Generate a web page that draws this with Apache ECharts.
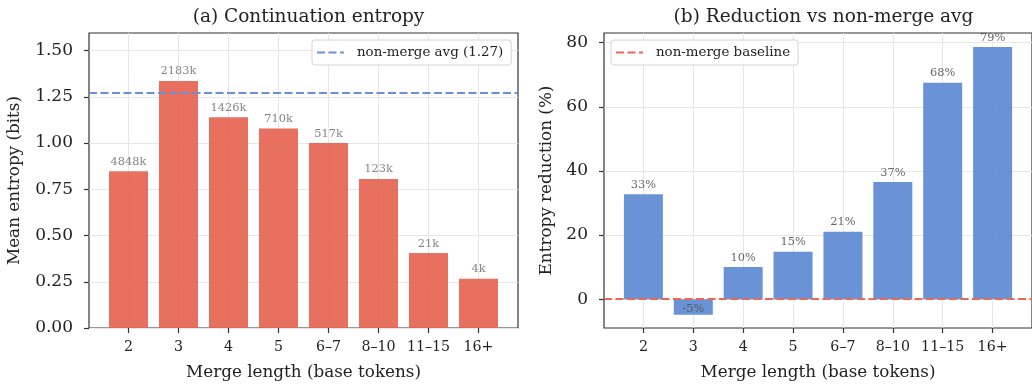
<!DOCTYPE html>
<html>
<head>
<meta charset="utf-8">
<script src="https://cdn.jsdelivr.net/npm/echarts@6/dist/echarts.min.js"></script>
<style>
  html, body { margin: 0; padding: 0; background: #fff; }
  #chart { width: 1032px; height: 386px; }
</style>
</head>
<body>
<div id="chart"></div>
<script>
const categories = ['2', '3', '4', '5', '6\u20137', '8\u201310', '11\u201315', '16+'];
const meanEntropy = [0.848, 1.336, 1.139, 1.079, 1.0, 0.806, 0.405, 0.266];
const countLabels = ['4848k', '2183k', '1426k', '710k', '517k', '123k', '21k', '4k'];
const reduction = [32.7, -4.9, 10.0, 14.8, 21.0, 36.5, 67.5, 78.6];
const nonMergeAvg = 1.274;
const entropyTicks = [0, 0.25, 0.5, 0.75, 1.0, 1.25, 1.5];
const reductionTicks = [0, 20, 40, 60, 80];

const FONT = 'DejaVu Serif';
const RED = '#e4604c';
const BLUE = '#5a87d3';
const catIdx = categories.map((c, i) => i);

const chart = echarts.init(document.getElementById('chart'));

function xAxisFor(gridIndex) {
  return {
    type: 'value', gridIndex: gridIndex, min: -0.79, max: 7.79,
    name: 'Merge length (base tokens)', nameLocation: 'middle', nameGap: 36,
    nameTextStyle: { fontFamily: FONT, fontSize: 16.8, color: '#222' },
    axisLine: { show: false, onZero: false },
    axisTick: { show: true, customValues: catIdx, length: 5, lineStyle: { color: '#333', width: 1.2 } },
    axisLabel: { customValues: catIdx, margin: 12, fontFamily: FONT, fontSize: 14.2, color: '#222',
      formatter: v => categories[Math.round(v)] },
    splitLine: { show: true, lineStyle: { color: '#e6e6e6', width: 1 } }
  };
}

function yAxisFor(gridIndex, min, max, name, nameGap, ticks, fmt) {
  return {
    type: 'value', gridIndex: gridIndex, min: min, max: max,
    name: name, nameLocation: 'middle', nameGap: nameGap,
    nameTextStyle: { fontFamily: FONT, fontSize: 16.8, color: '#222' },
    axisLine: { show: false, onZero: false },
    axisTick: { show: true, customValues: ticks, length: 5, lineStyle: { color: '#333', width: 1.2 } },
    axisLabel: { customValues: ticks, margin: 16, fontFamily: FONT, fontSize: 17, color: '#222', formatter: fmt },
    splitLine: { show: true, lineStyle: { color: '#e6e6e6', width: 1 } }
  };
}

const entropyData = meanEntropy.map((v, i) => [i, v]);
const reductionData = reduction.map((v, i) => ({
  value: [i, v],
  label: v < 0 ? { position: 'insideTop', distance: 4 } : undefined
}));

function legendFor(name, left) {
  return {
    data: [name], left: left, top: 40,
    icon: 'path://M0,0h8v2h-8zM11.5,0h8v2h-8zM23,0h4v2h-4z', itemWidth: 27, itemHeight: 2.5,
    padding: [6, 8, 6, 5], backgroundColor: 'rgba(255,255,255,0.85)', borderColor: '#d4d4d4',
    borderWidth: 1, borderRadius: 3,
    textStyle: { fontFamily: FONT, fontSize: 13.4, color: '#222', padding: [0, 0, 0, 8] }
  };
}

const avgName = 'non-merge avg (' + nonMergeAvg.toFixed(2) + ')';

const option = {
  animation: false,
  backgroundColor: '#fff',
  title: [
    { text: '(a) Continuation entropy', left: 303.5, top: 3, textAlign: 'center',
      textStyle: { fontFamily: FONT, fontSize: 18.5, fontWeight: 'normal', color: '#222' } },
    { text: '(b) Reduction vs non-merge avg', left: 818.5, top: 3, textAlign: 'center',
      textStyle: { fontFamily: FONT, fontSize: 18.5, fontWeight: 'normal', color: '#222' } }
  ],
  legend: [legendFor(avgName, 312), legendFor('non-merge baseline', 611)],
  grid: [
    { left: 89, top: 33, width: 429, height: 298, show: true, borderColor: '#333', borderWidth: 1.2 },
    { left: 604, top: 33, width: 429, height: 298, show: true, borderColor: '#333', borderWidth: 1.2 }
  ],
  xAxis: [xAxisFor(0), xAxisFor(1)],
  yAxis: [
    yAxisFor(0, 0, 1.595, 'Mean entropy (bits)', 66, entropyTicks, v => v.toFixed(2)),
    yAxisFor(1, -9, 83, 'Entropy reduction (%)', 49, reductionTicks, v => String(v))
  ],
  series: [
    { type: 'bar', xAxisIndex: 0, yAxisIndex: 0, data: entropyData, barWidth: 39,
      itemStyle: { color: RED, opacity: 0.9 },
      label: { show: true, position: 'top', distance: 4, fontFamily: FONT, fontSize: 11.4, color: '#777',
        formatter: p => countLabels[p.dataIndex] } },
    { type: 'line', name: avgName, xAxisIndex: 0, yAxisIndex: 0,
      data: [], color: '#6c8edb', z: 5,
      markLine: { silent: true, symbol: 'none', label: { show: false },
        lineStyle: { color: '#6c8edb', type: [8, 3.5], width: 2 },
        data: [{ yAxis: nonMergeAvg }] } },
    { type: 'bar', xAxisIndex: 1, yAxisIndex: 1, data: reductionData, barWidth: 39,
      itemStyle: { color: BLUE, opacity: 0.9 },
      label: { show: true, position: 'top', distance: 4, fontFamily: FONT, fontSize: 11.4, color: '#555',
        formatter: p => Math.round(p.value[1]) + '%' } },
    { type: 'line', name: 'non-merge baseline', xAxisIndex: 1, yAxisIndex: 1,
      data: [], color: '#e8685a', z: 5,
      markLine: { silent: true, symbol: 'none', label: { show: false },
        lineStyle: { color: '#e8685a', type: [8, 3.5], width: 2 },
        data: [{ yAxis: 0 }] } }
  ]
};

chart.setOption(option);
</script>
</body>
</html>
